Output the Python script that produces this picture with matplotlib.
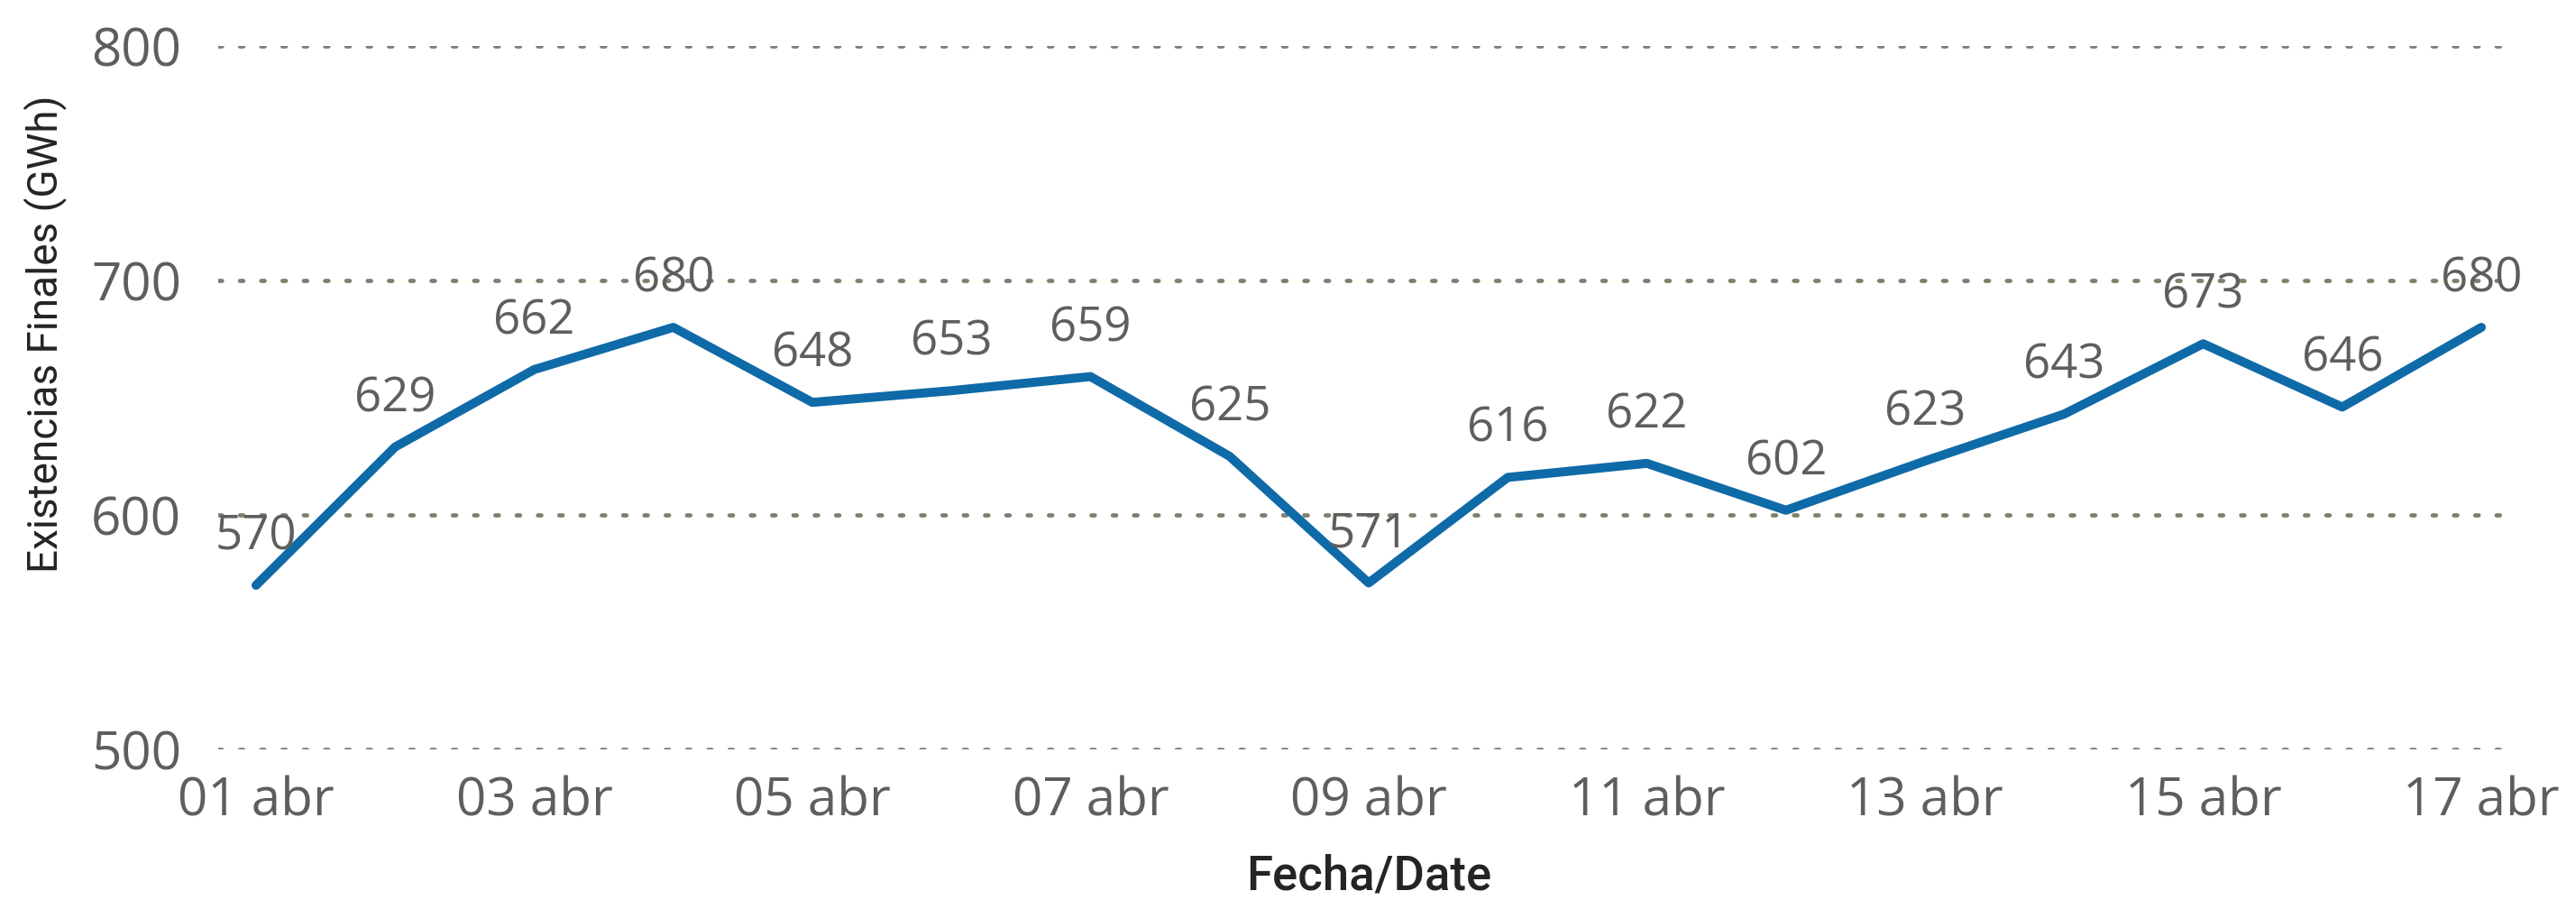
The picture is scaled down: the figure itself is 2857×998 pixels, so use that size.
import matplotlib
matplotlib.use("Agg")
import matplotlib.pyplot as plt
from matplotlib.ticker import FixedLocator

# ---- data ----
days = list(range(1, 18))
day_labels = ["01 abr", "02 abr", "03 abr", "04 abr", "05 abr", "06 abr", "07 abr", "08 abr",
              "09 abr", "10 abr", "11 abr", "12 abr", "13 abr", "14 abr", "15 abr", "16 abr", "17 abr"]
stock_gwh = [570, 629, 662, 680, 648, 653, 659, 625, 571, 616, 622, 602, 623, 643, 673, 646, 680]
y_ticks = [500, 600, 700, 800]
x_title = "Fecha/Date"
y_title = "Existencias Finales (GWh)"

W, H = 2857, 998
DPI = 100
fig = plt.figure(figsize=(W / DPI, H / DPI), dpi=DPI)
fig.patch.set_facecolor("white")

left_px, right_px = 242, 2792
top_px, bottom_px = 51, 831
ax = fig.add_axes([left_px / W, 1 - bottom_px / H, (right_px - left_px) / W, (bottom_px - top_px) / H])

line_color = "#0F6AA8"
tick_color = "#605E5C"
title_color = "#252423"
grid_color = "#7F7F6E"
tick_font = "Open Sans"

ax.plot(days, stock_gwh, color=line_color, linewidth=7.2, solid_capstyle="round",
        solid_joinstyle="round", zorder=3)

for d, v in zip(days, stock_gwh):
    ax.annotate(f"{v}", xy=(d, v), xytext=(0, 28.5), textcoords="offset points",
                ha="center", va="baseline", fontsize=38, color=tick_color,
                family=tick_font, zorder=4)

ax.set_ylim(500, 800)
ax.set_xlim(1 - 42 / 154.25, 17 + 40 / 154.25)
ax.yaxis.set_major_locator(FixedLocator(y_ticks))
ax.set_xticks(days[::2])
ax.set_xticklabels(day_labels[::2])

for s in ax.spines.values():
    s.set_visible(False)
ax.tick_params(axis="both", length=0, labelsize=42, labelcolor=tick_color)
ax.tick_params(axis="x", pad=21)
ax.tick_params(axis="y", pad=29.5)
for lab in ax.get_xticklabels() + ax.get_yticklabels():
    lab.set_family(tick_font)

ax.grid(axis="y", color=grid_color, linewidth=3.4, linestyle=(0, (0.8, 4.2)),
        dash_capstyle="round", zorder=1)
ax.grid(axis="x", visible=False)
ax.set_axisbelow(True)

fig.text(1518 / W, 1 - 986 / H, x_title, ha="center", va="baseline", fontsize=38,
         color=title_color, family="Roboto", fontweight="medium")
fig.text(50 / W, 1 - 370 / H, y_title, ha="center", va="center", rotation=90, fontsize=33,
         color=title_color, family="Roboto")

fig.savefig("out.png", dpi=DPI, facecolor="white")
